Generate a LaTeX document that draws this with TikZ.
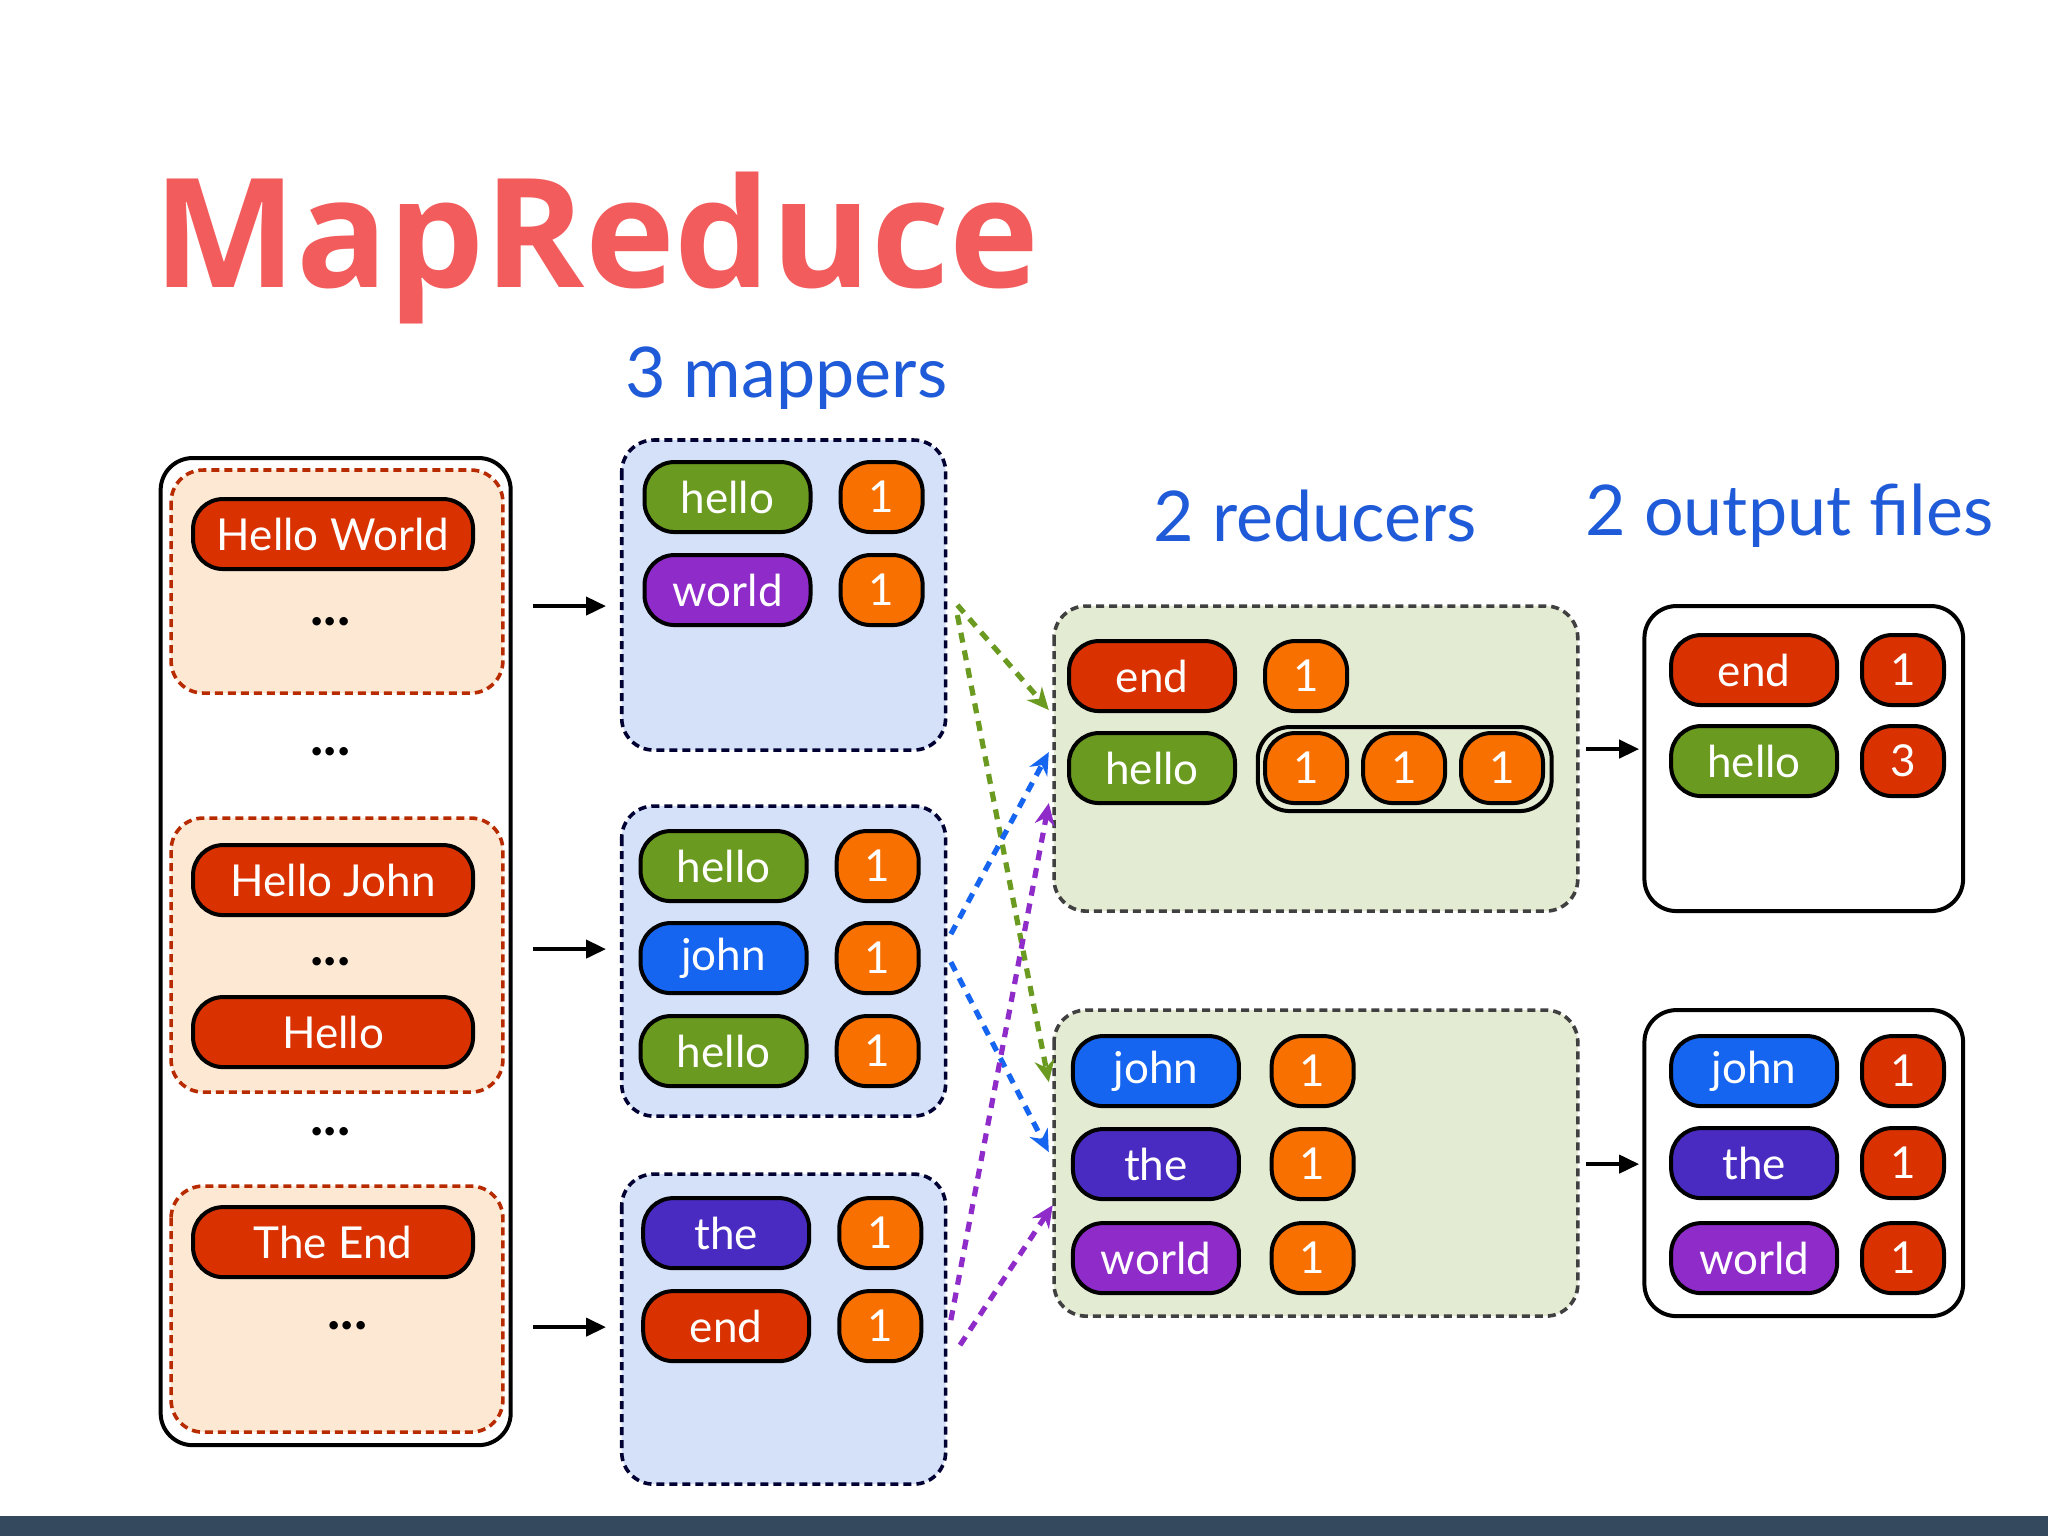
\documentclass[tikz,border=0pt]{standalone}
\usepackage{fontspec}
\setmainfont{Lato}
\newfontfamily\titlefont{Open Sans}
\usetikzlibrary{arrows.meta}
\definecolor{cgreen}{HTML}{6A9A1F}
\definecolor{cpurple}{HTML}{8E2BC9}
\definecolor{cblue}{HTML}{1565F0}
\definecolor{cindigo}{HTML}{4A2BC2}
\definecolor{cred}{HTML}{D93200}
\definecolor{corange}{HTML}{F77000}
\definecolor{ctitle}{HTML}{F25C5C}
\definecolor{clabel}{HTML}{1F5BD8}
\definecolor{inbg}{HTML}{FDE9D3}
\definecolor{mapbg}{HTML}{D4E1F9}
\definecolor{redbg}{HTML}{E3EBD3}
\definecolor{bar}{HTML}{34495E}
\tikzset{
  pill/.style={draw=black, line width=2pt, rounded corners=15pt, text=white,
    minimum height=35pt, inner sep=0pt, font=\fontsize{22}{22}\selectfont},
  wp/.style={pill, minimum width=83pt, fill=#1},
  ip/.style={pill, minimum width=140pt, fill=cred},
  np/.style={pill, minimum width=41pt, fill=#1},
  dots/.style={font=\fontsize{28}{28}\selectfont\bfseries},
  dbox/.style={line width=1.8pt, dash pattern=on 4pt off 2.5pt, rounded corners=16pt},
  sbox/.style={draw=black, line width=2pt, rounded corners=16pt, fill=white},
  lab/.style={text=clabel, font=\fontsize{35}{35}\selectfont},
  blk/.style={-{Triangle[length=10pt,width=9pt]}, line width=2pt},
  flow/.style={-{Stealth[length=11pt,width=10pt]}, line width=2.6pt, dash pattern=on 5pt off 4pt, draw=#1}
}
\begin{document}
\begin{tikzpicture}[x=0.653pt,y=-0.5pt]
\useasboundingbox (0,0) rectangle (1568,1536);
\fill[white] (0,0) rectangle (1568,1536);
\fill[bar] (0,1516) rectangle (1568,1536);
\node[anchor=west, text=ctitle, font=\titlefont\fontsize{76}{76}\selectfont\bfseries] (title) at (112,248) {MapReduce};
\node[lab] (lmap) at (602,378) {3 mappers};
\node[lab] (lred) at (1007,516) {2 reducers};
\node[lab] (lout) at (1370,516) {2 output files};
% input
\draw[sbox] (123,458) rectangle (391,1445);
\foreach \a/\b in {470/693, 818/1092, 1186/1432}
  \draw[dbox, draw=cred!85!black, fill=inbg] (131,\a) rectangle (385,\b);
\node[ip] (i1) at (255,534) {Hello World};
\node[dots] (d1) at (253,622) {...};
\node[dots] (d2) at (253,752) {...};
\node[ip] (i2) at (255,880) {Hello John};
\node[dots] (d3) at (253,962) {...};
\node[ip] (i3) at (255,1032) {Hello};
\node[dots] (d4) at (253,1132) {...};
\node[ip] (i4) at (255,1242) {The End};
\node[dots] (d5) at (266,1326) {...};
% mappers
\foreach \a/\b/\n in {440/750/m1, 806/1116/m2, 1174/1484/m3}
  \draw[dbox, draw=black!80!blue, fill=mapbg] (476,\a) rectangle (724,\b) coordinate (\n);
\node[wp=cgreen] (a1) at (557,497) {hello};   \node[np=corange] (a1v) at (675,497) {1};
\node[wp=cpurple] (a2) at (557,590) {world};  \node[np=corange] (a2v) at (675,590) {1};
\node[wp=cgreen] (b1) at (554,866) {hello};   \node[np=corange] (b1v) at (672,866) {1};
\node[wp=cblue] (b2) at (554,958) {john};     \node[np=corange] (b2v) at (672,958) {1};
\node[wp=cgreen] (b3) at (554,1051) {hello};  \node[np=corange] (b3v) at (672,1051) {1};
\node[wp=cindigo] (c1) at (556,1233) {the};   \node[np=corange] (c1v) at (674,1233) {1};
\node[wp=cred] (c2) at (556,1326) {end};      \node[np=corange] (c2v) at (674,1326) {1};
% input arrows
\coordinate (s1) at (408,606); \coordinate (t1) at (464,606);
\coordinate (s2) at (408,949); \coordinate (t2) at (464,949);
\coordinate (s3) at (408,1327); \coordinate (t3) at (464,1327);
\draw[blk] (s1) -- (t1); \draw[blk] (s2) -- (t2); \draw[blk] (s3) -- (t3);
% reducers
\draw[dbox, draw=black!75, fill=redbg] (807,606) rectangle (1208,911);
\draw[dbox, draw=black!75, fill=redbg] (807,1010) rectangle (1208,1316);
\node[wp=cred] (r1) at (882,676) {end};     \node[np=corange] (r1v) at (1000,676) {1};
\node[wp=cgreen] (r2) at (882,768) {hello};
\draw[draw=black, line width=2pt, rounded corners=16pt] (963,727) rectangle (1188,811);
\node[np=corange] (r2a) at (1000,768) {1};
\node[np=corange] (r2b) at (1075,768) {1};
\node[np=corange] (r2c) at (1150,768) {1};
\node[wp=cblue] (q1) at (885,1071) {john};    \node[np=corange] (q1v) at (1005,1071) {1};
\node[wp=cindigo] (q2) at (885,1164) {the};   \node[np=corange] (q2v) at (1005,1164) {1};
\node[wp=cpurple] (q3) at (885,1258) {world}; \node[np=corange] (q3v) at (1005,1258) {1};
% outputs
\draw[sbox] (1259,606) rectangle (1503,911);
\draw[sbox] (1259,1010) rectangle (1503,1316);
\node[wp=cred] (o1) at (1343,670) {end};      \node[np=cred] (o1v) at (1457,670) {1};
\node[wp=cgreen] (o2) at (1343,761) {hello};  \node[np=cred] (o2v) at (1457,761) {3};
\node[wp=cblue] (p1) at (1343,1071) {john};   \node[np=cred] (p1v) at (1457,1071) {1};
\node[wp=cindigo] (p2) at (1343,1163) {the};  \node[np=cred] (p2v) at (1457,1163) {1};
\node[wp=cpurple] (p3) at (1343,1258) {world};\node[np=cred] (p3v) at (1457,1258) {1};
\coordinate (u1) at (1214,749); \coordinate (v1) at (1255,749);
\coordinate (u2) at (1214,1164); \coordinate (v2) at (1255,1164);
\draw[blk] (u1) -- (v1); \draw[blk] (u2) -- (v2);
% shuffle
\coordinate (g0) at (733,605); \coordinate (g1) at (803,710);
\coordinate (g2) at (733,615); \coordinate (g3) at (803,1082);
\coordinate (h0) at (728,934); \coordinate (h1) at (803,752);
\coordinate (h2) at (728,962); \coordinate (h3) at (803,1152);
\coordinate (k0) at (728,1320); \coordinate (k1) at (803,803);
\coordinate (k2) at (735,1345); \coordinate (k3) at (806,1205);
\draw[flow=cgreen] (g0) -- (g1);
\draw[flow=cgreen] (g2) -- (g3);
\draw[flow=cblue] (h0) -- (h1);
\draw[flow=cblue] (h2) -- (h3);
\draw[flow=cpurple] (k0) -- (k1);
\draw[flow=cpurple] (k2) -- (k3);
\end{tikzpicture}
\end{document}
